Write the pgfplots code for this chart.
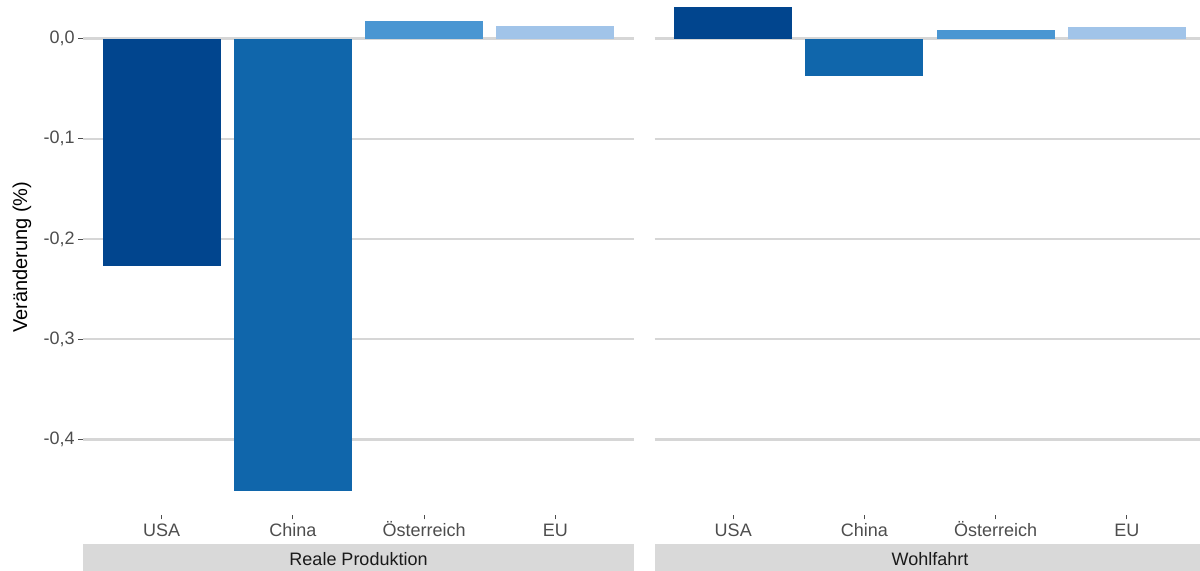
\documentclass[border=0pt]{standalone}
\usepackage{pgfplots}
\pgfplotsset{compat=1.18}
\usepackage{fontspec}
\setmainfont{Liberation Sans}
\definecolor{cUSA}{RGB}{1,69,142}
\definecolor{cCHN}{RGB}{16,102,171}
\definecolor{cAUT}{RGB}{74,150,210}
\definecolor{cEU}{RGB}{161,196,233}
\definecolor{gridgray}{RGB}{214,214,214}
\definecolor{stripgray}{RGB}{217,217,217}
\definecolor{gray30}{RGB}{77,77,77}
\definecolor{gray10}{RGB}{26,26,26}
\pgfplotsset{
  panel/.style={
    anchor=south west, scale only axis,
    width=413.25pt, height=386pt,
    xmin=0.4, xmax=4.6, ymin=-0.475, ymax=0.0384,
    clip=false,
    axis line style={draw=none},
    ymajorgrids, grid style={line width=1.6pt, color=gridgray},
    xtick={1,2,3,4},
    xticklabels={USA,China,Österreich,EU},
    ytick={-0.4,-0.3,-0.2,-0.1,0},
    tick align=outside, major tick length=3.5pt,
    tick style={gray30, line width=0.8pt},
    xtick pos=bottom, ytick pos=left,
    ticklabel style={font=\fontsize{13.5}{16}\selectfont, text=gray30},
    xticklabel style={inner sep=0pt, anchor=base, yshift=-12.8pt},
    ybar, bar width=0.9, bar shift=0pt,
  }
}
\begin{document}
\begin{tikzpicture}
\path[use as bounding box] (0,0) rectangle (900pt,428.25pt);
\begin{axis}[panel, at={(62.25pt,42.2pt)},
  yticklabels={{-0,4},{-0,3},{-0,2},{-0,1},{0,0}},
  yticklabel style={inner sep=0pt, xshift=-2.5pt},
  ylabel={Veränderung (\%)},
  ylabel style={at={(axis description cs:-0.1107,0.5)}, anchor=center, rotate=0, font=\fontsize{15}{18}\selectfont, text=black},
]
\addplot[fill=cUSA, draw=none] coordinates {(1,-0.2265)};
\addplot[fill=cCHN, draw=none] coordinates {(2,-0.451)};
\addplot[fill=cAUT, draw=none] coordinates {(3,0.018)};
\addplot[fill=cEU, draw=none] coordinates {(4,0.0127)};
\end{axis}
\begin{axis}[panel, at={(490.9pt,42.2pt)},
  yticklabels={}, ytick style={draw=none},
]
\addplot[fill=cUSA, draw=none] coordinates {(1,0.031)};
\addplot[fill=cCHN, draw=none] coordinates {(2,-0.0375)};
\addplot[fill=cAUT, draw=none] coordinates {(3,0.009)};
\addplot[fill=cEU, draw=none] coordinates {(4,0.0115)};
\end{axis}
\fill[stripgray] (62.25pt,-3pt) rectangle (475.5pt,20.6pt);
\fill[stripgray] (490.9pt,-3pt) rectangle (905pt,20.6pt);
\node[anchor=base, inner sep=0pt, text=gray10, font=\fontsize{13.5}{16}\selectfont] at (268.9pt,4pt) {Reale Produktion};
\node[anchor=base, inner sep=0pt, text=gray10, font=\fontsize{13.5}{16}\selectfont] at (697.5pt,4pt) {Wohlfahrt};
\end{tikzpicture}
\end{document}
